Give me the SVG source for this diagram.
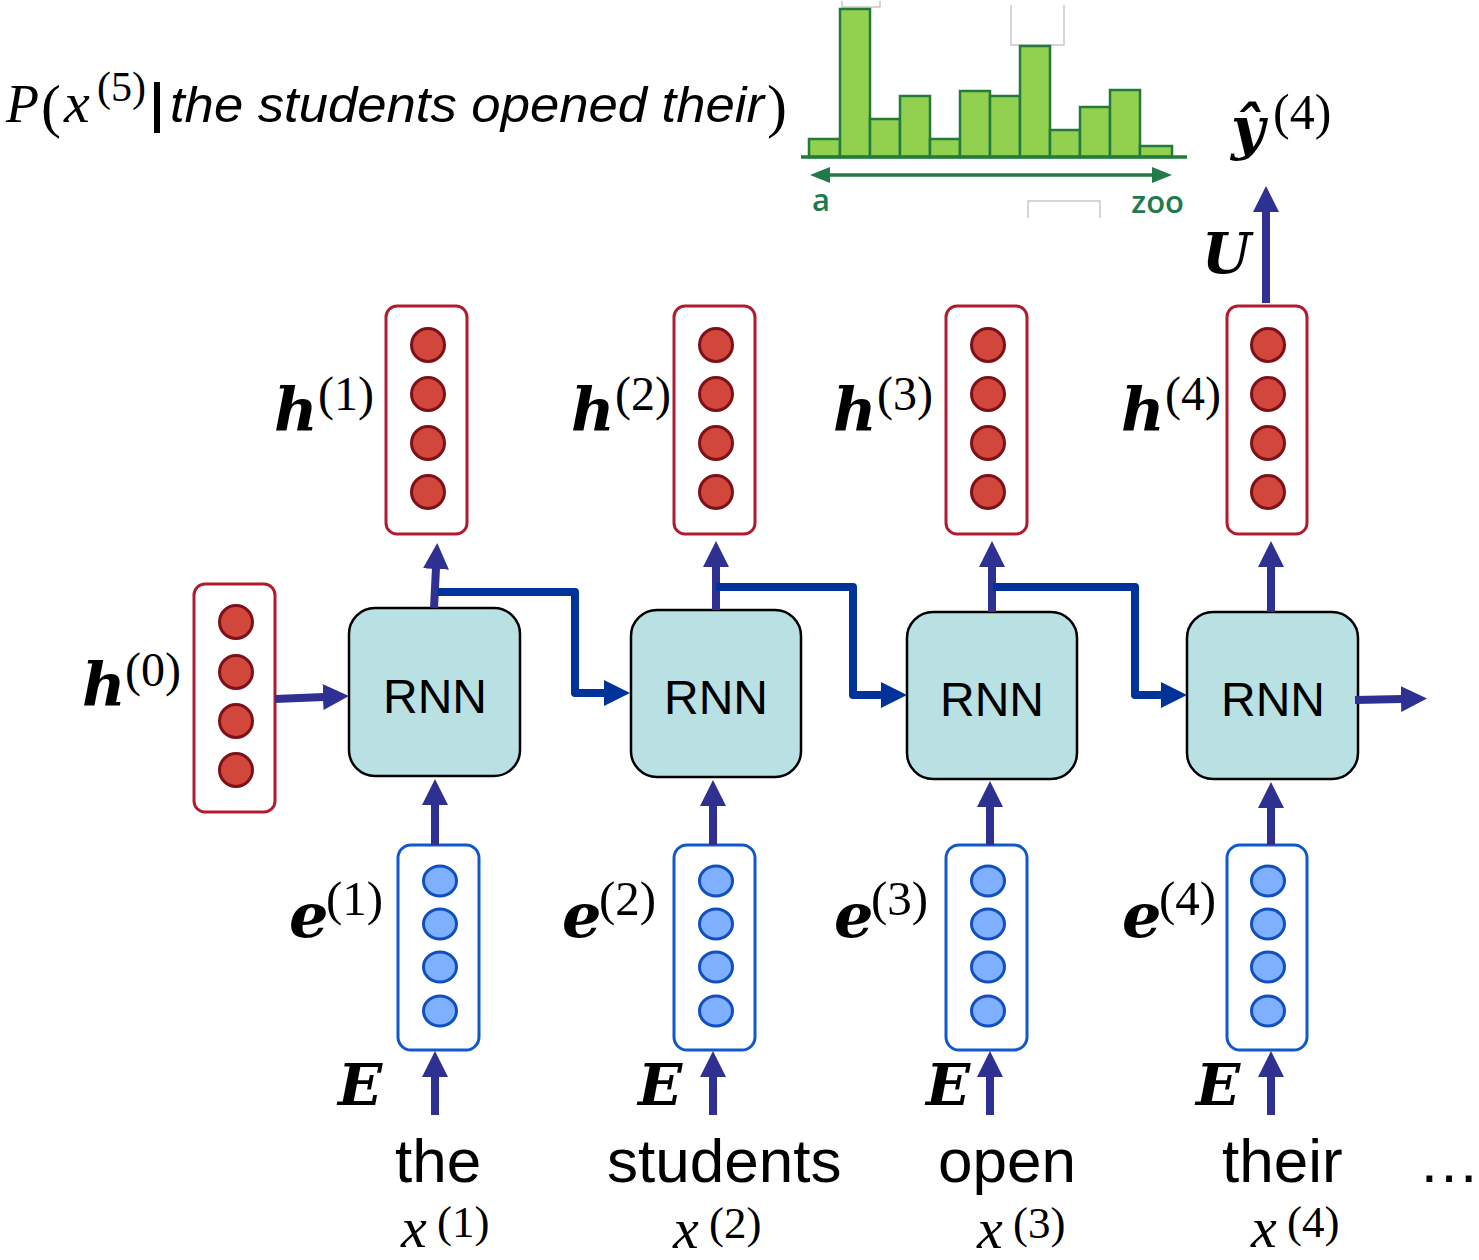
<svg xmlns="http://www.w3.org/2000/svg" width="1479" height="1260" viewBox="0 0 1479 1260">
<style>
.hbox{fill:#fff;stroke:#b01c2e;stroke-width:3}
.hc{fill:#d2473b;stroke:#7d1018;stroke-width:3}
.ebox{fill:#fff;stroke:#1158cc;stroke-width:3}
.ec{fill:#7fb0ff;stroke:#0f4fc0;stroke-width:3}
.rnn{fill:#b9e0e3;stroke:#000;stroke-width:2.5}
.rt{font-family:"Liberation Sans",Arial,sans-serif;font-size:48px;fill:#000;text-anchor:middle}
.bi{font-family:"DejaVu Serif",serif;font-weight:bold;font-style:italic;fill:#000}
.sup{font-family:"Liberation Serif","Times New Roman",serif;fill:#000}
.word{font-family:"Liberation Sans",Arial,sans-serif;font-size:62px;fill:#000}
.xi{font-family:"Liberation Serif","Times New Roman",serif;font-style:italic;font-size:58px;fill:#000}
.va{stroke:#2e3192;stroke-width:8;fill:none}
.ra{stroke:#003399;stroke-width:8;fill:none;stroke-linejoin:round}
.bar{fill:#92d050;stroke:#237a3b;stroke-width:2.5}
.gh{fill:none;stroke:#c8c8c8;stroke-width:1.5}
.gt{font-family:"Open Sans","Liberation Sans",sans-serif;font-weight:600;font-size:31px;fill:#217a4a}
</style>
<defs>
<marker id="ah" viewBox="0 0 26 26" markerWidth="26" markerHeight="26" refX="1" refY="13" orient="auto" markerUnits="userSpaceOnUse"><path d="M0,0 L26,13 L0,26 z" fill="#2e3192"/></marker>
<marker id="ahb" viewBox="0 0 26 26" markerWidth="26" markerHeight="26" refX="1" refY="13" orient="auto" markerUnits="userSpaceOnUse"><path d="M0,0 L26,13 L0,26 z" fill="#003399"/></marker>
<marker id="gh2" viewBox="0 0 20 16" markerWidth="20" markerHeight="16" refX="1" refY="8" orient="auto-start-reverse" markerUnits="userSpaceOnUse"><path d="M0,0 L20,8 L0,16 z" fill="#217a4a"/></marker>
</defs>

<g id="formula">
<text x="6" y="122" class="sup" font-style="italic" font-size="54">P</text>
<text x="41" y="126" class="sup" font-size="60">(</text>
<text x="64" y="122" class="sup" font-style="italic" font-size="58">x</text>
<text x="97" y="101" class="sup" font-size="42">(5)</text>
<rect x="154" y="82" width="6" height="51" fill="#000"/>
<text x="170" y="122" font-family="Liberation Sans,Arial,sans-serif" font-style="italic" font-size="50" textLength="594" lengthAdjust="spacingAndGlyphs">the students opened their</text>
<text x="767" y="126" class="sup" font-size="60">)</text>
</g>

<g id="histogram">
<path class="gh" d="M842,1 V7 H880 V1"/>
<path class="gh" d="M1011,5 V45 H1064 V5"/>
<rect class="bar" x="809" y="139" width="31" height="18"/>
<rect class="bar" x="840" y="9" width="30" height="148"/>
<rect class="bar" x="870" y="119" width="30" height="38"/>
<rect class="bar" x="900" y="96" width="30" height="61"/>
<rect class="bar" x="930" y="139" width="30" height="18"/>
<rect class="bar" x="960" y="91" width="30" height="66"/>
<rect class="bar" x="990" y="96" width="30" height="61"/>
<rect class="bar" x="1020" y="46" width="30" height="111"/>
<rect class="bar" x="1050" y="130" width="30" height="27"/>
<rect class="bar" x="1080" y="107" width="30" height="50"/>
<rect class="bar" x="1110" y="90" width="30" height="67"/>
<rect class="bar" x="1140" y="146" width="32" height="11"/>
<line x1="801" y1="157" x2="1187" y2="157" stroke="#237a3b" stroke-width="3.5"/>
<line x1="829" y1="175" x2="1153" y2="175" stroke="#217a4a" stroke-width="3.5" marker-start="url(#gh2)" marker-end="url(#gh2)"/>
<path class="gh" d="M1028,218 V201 H1100 V218"/>
<text x="812" y="211" class="gt">a</text>
<text x="1184" y="213" class="gt" text-anchor="end">zoo</text>
</g>

<g id="yhat">
<text x="1231" y="148" class="bi" font-size="58">ŷ</text>
<text x="1273" y="129" class="sup" font-size="50">(4)</text>
</g>
<g id="U-label"><text x="1202" y="273" class="bi" font-size="56">U</text></g>

<g id="h0">
<rect class="hbox" x="194" y="584" width="81" height="228" rx="11"/>
<circle class="hc" cx="236" cy="622" r="16.5"/><circle class="hc" cx="236" cy="672" r="16.5"/><circle class="hc" cx="236" cy="721" r="16.5"/><circle class="hc" cx="236" cy="770" r="16.5"/>
<text x="82" y="706" class="bi" font-size="60">h</text><text x="125" y="686" class="sup" font-size="48">(0)</text>
</g>
<g id="h1">
<rect class="hbox" x="386" y="306" width="81" height="228" rx="11"/>
<circle class="hc" cx="428" cy="345" r="16.5"/><circle class="hc" cx="428" cy="394" r="16.5"/><circle class="hc" cx="428" cy="443" r="16.5"/><circle class="hc" cx="428" cy="492" r="16.5"/>
<text x="274" y="431" class="bi" font-size="60">h</text><text x="318" y="410" class="sup" font-size="48">(1)</text>
</g>
<g id="h2">
<rect class="hbox" x="674" y="306" width="81" height="228" rx="11"/>
<circle class="hc" cx="716" cy="345" r="16.5"/><circle class="hc" cx="716" cy="394" r="16.5"/><circle class="hc" cx="716" cy="443" r="16.5"/><circle class="hc" cx="716" cy="492" r="16.5"/>
<text x="571" y="431" class="bi" font-size="60">h</text><text x="615" y="410" class="sup" font-size="48">(2)</text>
</g>
<g id="h3">
<rect class="hbox" x="946" y="306" width="81" height="228" rx="11"/>
<circle class="hc" cx="988" cy="345" r="16.5"/><circle class="hc" cx="988" cy="394" r="16.5"/><circle class="hc" cx="988" cy="443" r="16.5"/><circle class="hc" cx="988" cy="492" r="16.5"/>
<text x="833" y="431" class="bi" font-size="60">h</text><text x="877" y="410" class="sup" font-size="48">(3)</text>
</g>
<g id="h4">
<rect class="hbox" x="1227" y="306" width="80" height="228" rx="11"/>
<circle class="hc" cx="1268" cy="345" r="16.5"/><circle class="hc" cx="1268" cy="394" r="16.5"/><circle class="hc" cx="1268" cy="443" r="16.5"/><circle class="hc" cx="1268" cy="492" r="16.5"/>
<text x="1121" y="431" class="bi" font-size="60">h</text><text x="1165" y="410" class="sup" font-size="48">(4)</text>
</g>

<g id="rnn1"><rect class="rnn" x="349" y="608" width="171" height="168" rx="26"/><text x="435" y="713" class="rt">RNN</text></g>
<g id="rnn2"><rect class="rnn" x="631" y="610" width="170" height="167" rx="26"/><text x="716" y="714" class="rt">RNN</text></g>
<g id="rnn3"><rect class="rnn" x="907" y="612" width="170" height="167" rx="26"/><text x="992" y="716" class="rt">RNN</text></g>
<g id="rnn4"><rect class="rnn" x="1187" y="612" width="171" height="167" rx="26"/><text x="1273" y="716" class="rt">RNN</text></g>

<g id="e1">
<rect class="ebox" x="398" y="845" width="81" height="205" rx="13"/>
<ellipse class="ec" cx="440" cy="881" rx="16.5" ry="15"/><ellipse class="ec" cx="440" cy="924" rx="16.5" ry="15"/><ellipse class="ec" cx="440" cy="967" rx="16.5" ry="15"/><ellipse class="ec" cx="440" cy="1011" rx="16.5" ry="15"/>
<text x="289" y="937" class="bi" font-size="62">e</text><text x="326" y="915" class="sup" font-size="49">(1)</text>
</g>
<g id="e2">
<rect class="ebox" x="674" y="845" width="81" height="205" rx="13"/>
<ellipse class="ec" cx="716" cy="881" rx="16.5" ry="15"/><ellipse class="ec" cx="716" cy="924" rx="16.5" ry="15"/><ellipse class="ec" cx="716" cy="967" rx="16.5" ry="15"/><ellipse class="ec" cx="716" cy="1011" rx="16.5" ry="15"/>
<text x="562" y="937" class="bi" font-size="62">e</text><text x="599" y="915" class="sup" font-size="49">(2)</text>
</g>
<g id="e3">
<rect class="ebox" x="946" y="845" width="81" height="205" rx="13"/>
<ellipse class="ec" cx="988" cy="881" rx="16.5" ry="15"/><ellipse class="ec" cx="988" cy="924" rx="16.5" ry="15"/><ellipse class="ec" cx="988" cy="967" rx="16.5" ry="15"/><ellipse class="ec" cx="988" cy="1011" rx="16.5" ry="15"/>
<text x="834" y="937" class="bi" font-size="62">e</text><text x="871" y="915" class="sup" font-size="49">(3)</text>
</g>
<g id="e4">
<rect class="ebox" x="1227" y="845" width="80" height="205" rx="13"/>
<ellipse class="ec" cx="1268" cy="881" rx="16.5" ry="15"/><ellipse class="ec" cx="1268" cy="924" rx="16.5" ry="15"/><ellipse class="ec" cx="1268" cy="967" rx="16.5" ry="15"/><ellipse class="ec" cx="1268" cy="1011" rx="16.5" ry="15"/>
<text x="1122" y="937" class="bi" font-size="62">e</text><text x="1159" y="915" class="sup" font-size="49">(4)</text>
</g>

<g id="E-labels">
<text x="338" y="1105" class="bi" font-size="58">E</text>
<text x="638" y="1105" class="bi" font-size="58">E</text>
<text x="926" y="1105" class="bi" font-size="58">E</text>
<text x="1196" y="1105" class="bi" font-size="58">E</text>
</g>

<g id="words">
<text x="395" y="1182" class="word">the</text>
<text x="607" y="1182" class="word">students</text>
<text x="938" y="1182" class="word">open</text>
<text x="1222" y="1182" class="word">their</text>
<text x="1418" y="1182" class="word">…</text>
</g>
<g id="x-labels">
<text x="401" y="1247" class="xi">x</text><text x="437" y="1237" class="sup" font-size="45">(1)</text>
<text x="673" y="1248" class="xi">x</text><text x="709" y="1238" class="sup" font-size="45">(2)</text>
<text x="977" y="1248" class="xi">x</text><text x="1013" y="1238" class="sup" font-size="45">(3)</text>
<text x="1251" y="1247" class="xi">x</text><text x="1287" y="1237" class="sup" font-size="45">(4)</text>
</g>

<g id="connectors">
<line class="va" x1="1266" y1="303" x2="1266" y2="211" marker-end="url(#ah)"/>
<line class="va" x1="434" y1="608" x2="436" y2="568" marker-end="url(#ah)"/>
<line class="va" x1="716" y1="610" x2="716" y2="566" marker-end="url(#ah)"/>
<line class="va" x1="992" y1="612" x2="992" y2="566" marker-end="url(#ah)"/>
<line class="va" x1="1271" y1="612" x2="1271" y2="566" marker-end="url(#ah)"/>
<polyline class="ra" points="438,592 575,592 575,693 605,693" marker-end="url(#ahb)"/>
<polyline class="ra" points="716,587 853,587 853,695 882,695" marker-end="url(#ahb)"/>
<polyline class="ra" points="993,587 1135,587 1135,695 1162,695" marker-end="url(#ahb)"/>
<line class="va" x1="275" y1="699" x2="324" y2="697" marker-end="url(#ah)"/>
<line class="va" x1="1355" y1="700" x2="1402" y2="699" marker-end="url(#ah)"/>
<line class="va" x1="435" y1="845" x2="435" y2="804" marker-end="url(#ah)"/>
<line class="va" x1="713" y1="845" x2="713" y2="805" marker-end="url(#ah)"/>
<line class="va" x1="990" y1="845" x2="990" y2="806" marker-end="url(#ah)"/>
<line class="va" x1="1271" y1="845" x2="1271" y2="807" marker-end="url(#ah)"/>
<line class="va" x1="435" y1="1115" x2="435" y2="1076" marker-end="url(#ah)"/>
<line class="va" x1="713" y1="1115" x2="713" y2="1076" marker-end="url(#ah)"/>
<line class="va" x1="990" y1="1115" x2="990" y2="1076" marker-end="url(#ah)"/>
<line class="va" x1="1271" y1="1115" x2="1271" y2="1076" marker-end="url(#ah)"/>
</g>
</svg>
